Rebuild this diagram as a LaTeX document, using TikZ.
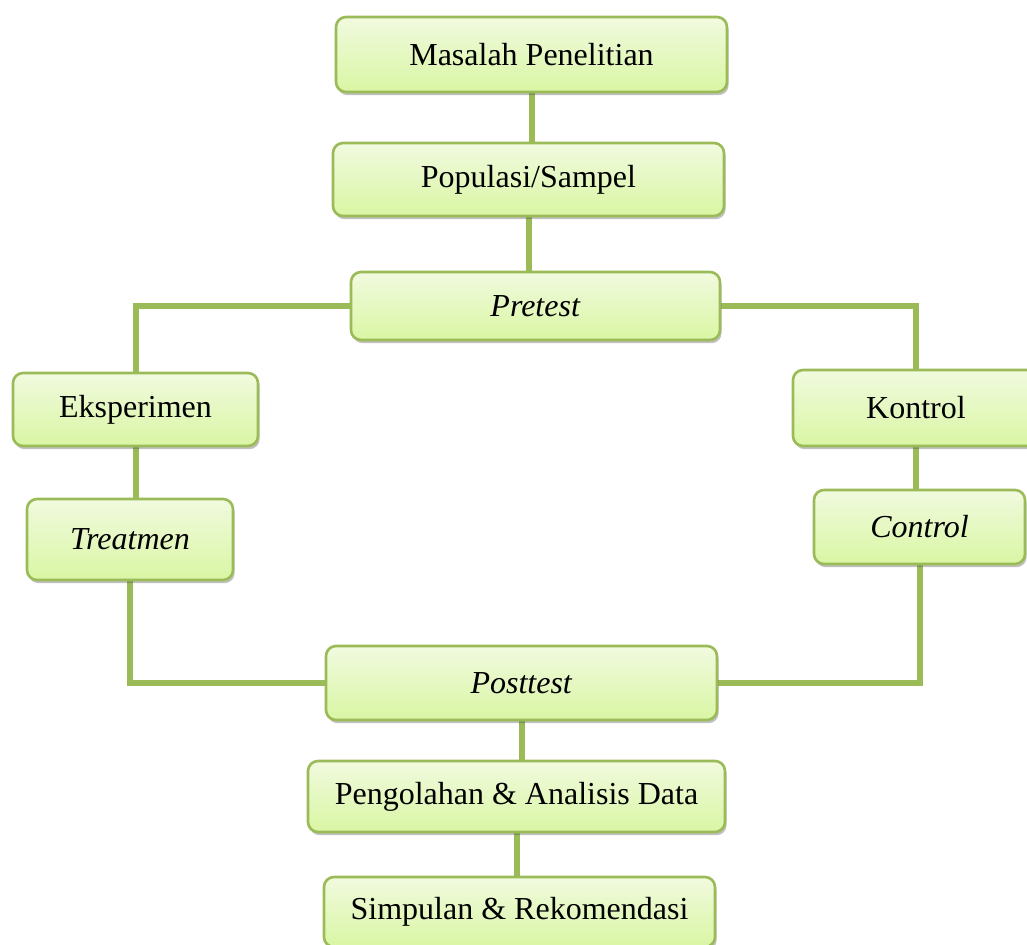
\documentclass[tikz,border=0pt]{standalone}
\usepackage{fontspec}
\setmainfont{Liberation Serif}
\usetikzlibrary{shadows,backgrounds}
\definecolor{olive}{HTML}{9BBB59}
\definecolor{boxtop}{HTML}{F1FADF}
\definecolor{boxbot}{HTML}{D9F6A3}
\tikzset{
  flowbox/.style={draw=olive, line width=1.3pt, rounded corners=5pt,
    top color=boxtop, bottom color=boxbot, inner sep=0pt,
    font=\fontsize{16}{19}\selectfont, text=black,
    drop shadow={shadow xshift=0.8pt, shadow yshift=-1.6pt, opacity=0.35, fill=black!70}},
  conn/.style={draw=olive, line width=3pt}
}
\begin{document}
\begin{tikzpicture}[x=0.5pt,y=-0.5pt]
\useasboundingbox (0,0) rectangle (1027,945);
\node[flowbox, minimum width=195.5pt, minimum height=37.5pt] (mas) at (531.5,54.5) {Masalah Penelitian};
\node[flowbox, minimum width=195.5pt, minimum height=36.5pt] (pop) at (528.5,179.5) {Populasi/Sampel};
\node[flowbox, minimum width=184.5pt, minimum height=34pt] (pre) at (535.5,306) {\textit{Pretest}};
\node[flowbox, minimum width=122.5pt, minimum height=36.5pt] (eks) at (135.5,409.5) {Eksperimen};
\node[flowbox, minimum width=103pt, minimum height=40.5pt] (tre) at (130,539.5) {\textit{Treatmen}};
\node[flowbox, minimum width=123pt, minimum height=38pt] (kon) at (916,408) {Kontrol};
\node[flowbox, minimum width=105.5pt, minimum height=37pt] (con) at (919.5,527) {\textit{Control}};
\node[flowbox, minimum width=195.5pt, minimum height=37pt] (post) at (521.5,683) {\textit{Posttest}};
\node[flowbox, minimum width=208.5pt, minimum height=35.5pt] (pen) at (516.5,796.5) {Pengolahan \& Analisis Data};
\node[flowbox, minimum width=195.5pt, minimum height=35pt] (sim) at (519.5,912) {Simpulan \& Rekomendasi};
\begin{scope}[on background layer]
\draw[conn] (mas.south) -- (mas.south |- pop.north);
\draw[conn] (pop.south) -- (pop.south |- pre.north);
\draw[conn] (pre.west) -| (eks.north);
\draw[conn] (pre.east) -| (kon.north);
\draw[conn] (eks.south) -- (eks.south |- tre.north);
\draw[conn] (kon.south) -- (kon.south |- con.north);
\draw[conn] (tre.south) |- (post.west);
\draw[conn] (con.south) |- (post.east);
\draw[conn] (post.south) -- (post.south |- pen.north);
\draw[conn] (pen.south) -- (pen.south |- sim.north);
\end{scope}
\end{tikzpicture}
\end{document}
